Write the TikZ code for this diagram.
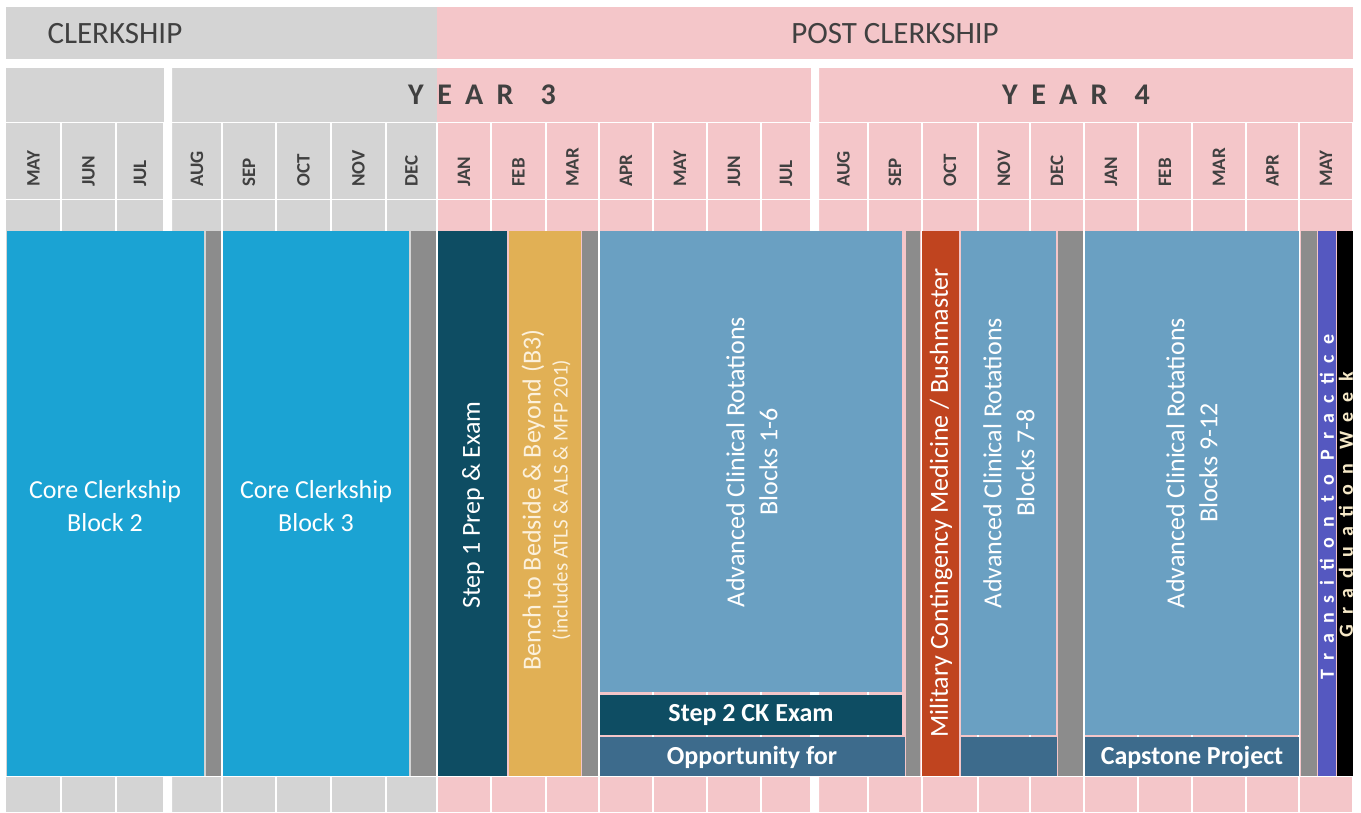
\documentclass[tikz,border=0pt]{standalone}
\usepackage{fontspec}
\setmainfont{Carlito}
\newfontfamily\spacedfont{Carlito}[LetterSpace=45]
\newfontfamily\barfont{Carlito}[LetterSpace=50]
\usetikzlibrary{positioning}

\definecolor{hdrgray}{HTML}{D4D4D4}
\definecolor{hdrpink}{HTML}{F4C6C9}
\definecolor{hdrtext}{HTML}{404040}
\definecolor{coreblue}{HTML}{1BA3D3}
\definecolor{breakgray}{HTML}{8C8C8C}
\definecolor{stepteal}{HTML}{0E4D63}
\definecolor{benchgold}{HTML}{E1B055}
\definecolor{benchtext}{HTML}{FCF1DC}
\definecolor{acrblue}{HTML}{6AA0C2}
\definecolor{capblue}{HTML}{3D6B8C}
\definecolor{milred}{HTML}{C0441F}
\definecolor{ttpurple}{HTML}{5558C0}
\definecolor{gradtext}{HTML}{F6E9C8}

\tikzset{
  phase/.style={text=hdrtext, font=\fontsize{31}{36}\selectfont},
  yearlbl/.style={text=hdrtext, font=\fontsize{30}{36}\spacedfont\bfseries},
  month/.style={text=hdrtext, rotate=90, anchor=west, inner sep=0pt,
    font=\fontsize{19}{21}\selectfont\bfseries},
  blocktxt/.style={text=white, align=center, font=\fontsize{26}{33}\selectfont},
  boldtxt/.style={text=white, font=\fontsize{26}{30}\selectfont\bfseries},
  sidetxt/.style={blocktxt, rotate=90},
  bartxt/.style={rotate=90, inner sep=0pt, font=\fontsize{20}{22}\barfont\bfseries}
}

\begin{document}
\begin{tikzpicture}[x=1pt,y=-1pt]
  \useasboundingbox (0,0) rectangle (1361,812);

  % phase row
  \fill[hdrgray] (6,7) rectangle (437,59);
  \fill[hdrpink] (437,7) rectangle (1353,59);
  \node[phase, anchor=west] (clerk) at (44,34) {CLERKSHIP};
  \node[phase] (post) at (895,34) {POST CLERKSHIP};

  % year row and month grid
  \fill[hdrgray] (6,68) rectangle (437,812);
  \fill[hdrpink] (437,68) rectangle (1353,812);
  \fill[white] (164,68) rectangle (172,812) (811,68) rectangle (819,812);
  \draw[white, line width=1.5pt] (6,122.5) -- (1353,122.5)
    (6,199.5) -- (1353,199.5) (6,776.6) -- (1353,776.6);
  \node[yearlbl] (yr3) at (482,95) {YEAR\hskip27pt 3};
  \node[yearlbl] (yr4) at (1076,95) {YEAR\hskip27pt 4};

  \foreach \a/\b/\m [count=\i] in {6/61/MAY,61/116/JUN,116/164/JUL,
      172/222/AUG,222/276/SEP,276/331/OCT,331/386/NOV,386/437/DEC,
      437/491/JAN,491/546/FEB,546/599/MAR,599/653/APR,653/707/MAY,
      707/761/JUN,761/811/JUL,819/868/AUG,868/922/SEP,922/978/OCT,
      978/1030/NOV,1030/1084/DEC,1084/1138/JAN,1138/1192/FEB,
      1192/1246/MAR,1246/1299/APR,1299/1353/MAY}{
    \draw[white, line width=2pt] (\b,123) -- (\b,812);
    \node[month] (mon\i) at ({(\a+\b)/2},187) {\m};
  }

  % breaks
  \foreach \a/\b in {206/221,411/436,582/598,906/920,1058/1083,1301/1317}
    \fill[breakgray] (\a,231) rectangle (\b,776);

  % blocks
  \fill[coreblue] (7,231) rectangle (204,776);
  \fill[coreblue] (223,231) rectangle (409,776);
  \fill[stepteal] (438,231) rectangle (507,776);
  \fill[benchgold] (509,231) rectangle (581,776);
  \fill[acrblue] (600,231) rectangle (902,692);
  \fill[stepteal] (600,695) rectangle (902,735);
  \fill[capblue] (600,737) rectangle (905,776);
  \fill[milred] (922,231) rectangle (959,776);
  \fill[acrblue] (961,231) rectangle (1056,735);
  \fill[capblue] (961,737) rectangle (1057,776);
  \fill[acrblue] (1085,231) rectangle (1299,735);
  \fill[capblue] (1085,737) rectangle (1299,776);
  \fill[ttpurple] (1318,231) rectangle (1336,776);
  \fill[black] (1337,231) rectangle (1353,776);

  \node[blocktxt] (core2) at (105,506) {Core Clerkship\\Block 2};
  \node[blocktxt] (core3) at (316,506) {Core Clerkship\\Block 3};
  \node[sidetxt] (step1) at (473,505) {Step 1 Prep \& Exam};
  \node[sidetxt, text=benchtext] (bench) at (546,500)
    {Bench to Bedside \& Beyond (B3)\\[-6pt]
     {\fontsize{21}{24}\selectfont (includes ATLS \& ALS \& MFP 201)}};
  \node[sidetxt] (acr1) at (752,462) {Advanced Clinical Rotations\\Blocks 1-6};
  \node[boldtxt] (step2) at (751,715) {Step 2 CK Exam};
  \node[boldtxt] (opp) at (752,757) {Opportunity for};
  \node[sidetxt] (mil) at (941,503) {Military Contingency Medicine / Bushmaster};
  \node[sidetxt] (acr2) at (1009,463) {Advanced Clinical Rotations\\Blocks 7-8};
  \node[sidetxt] (acr3) at (1192,463) {Advanced Clinical Rotations\\Blocks 9-12};
  \node[boldtxt] (cap) at (1192,758) {Capstone Project};
  \node[bartxt, text=white] (ttp) at (1327,507) {Transition to Practice};
  \node[bartxt, text=gradtext] (grad) at (1346,505) {Graduation Week};
\end{tikzpicture}
\end{document}
